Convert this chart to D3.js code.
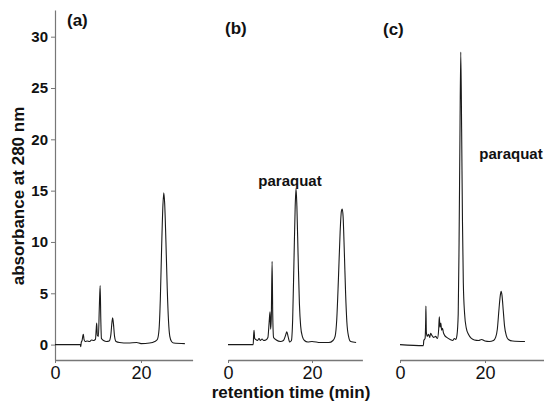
<!DOCTYPE html>
<html>
<head>
<meta charset="utf-8">
<script src="https://cdn.jsdelivr.net/npm/d3@7"></script>
<style>
  body { margin: 0; background: #fff; }
  svg text { font-family: "Liberation Sans", Arial, Helvetica, sans-serif; fill: #111; }
  .axis path, .axis line { stroke: #777; }
</style>
</head>
<body>
<svg id="chart" width="544" height="402"></svg>
<script>
// chromatogram traces: [retention time (min), absorbance]
const traceA = [[0,0],[5.9,0],[6.0,-0.2],[6.1,0.2],[6.3,0.4],[6.5,0.9],[6.6,1.0],[6.75,0.5],[7.0,0.3],[7.5,0.35],[8.0,0.3],[8.5,0.45],[9.0,0.4],[9.4,0.5],[9.6,1.6],[9.7,2.1],[9.85,0.9],[10.1,0.8],[10.3,3.5],[10.5,5.75],[10.65,2.5],[10.8,0.6],[11.3,0.4],[12.0,0.3],[12.6,0.35],[13.0,1.0],[13.25,2.2],[13.4,2.6],[13.6,2.0],[13.85,0.8],[14.2,0.3],[15,0.2],[17,0.15],[19,0.2],[20,0.1],[22,0.15],[23.2,0.3],[23.8,0.5],[24.2,1.5],[24.5,4.5],[24.8,9.5],[25.1,13.6],[25.3,14.8],[25.5,13.8],[25.8,10],[26.1,5.5],[26.4,2.3],[26.7,0.8],[27.1,0.3],[27.6,0.15],[30.2,0.1]];
const traceB = [[0,0],[6.0,0],[6.1,0.9],[6.2,1.4],[6.35,0.6],[6.6,0.5],[7.0,0.4],[7.4,0.6],[7.7,0.4],[8.1,0.55],[8.5,0.4],[9.0,0.45],[9.5,0.7],[9.8,2.2],[10.0,3.2],[10.15,1.5],[10.3,2.5],[10.5,8.1],[10.65,3.0],[10.85,0.7],[11.5,0.45],[12.5,0.3],[13.2,0.4],[13.7,0.9],[14.0,1.25],[14.3,0.8],[14.7,0.25],[15.1,0.4],[15.4,2.5],[15.7,8],[16.0,13.5],[16.2,15.2],[16.4,13.5],[16.7,8.5],[17.0,4],[17.3,1.8],[17.7,0.8],[18.2,0.4],[19,0.25],[20,0.3],[22,0.2],[24,0.2],[25,0.4],[25.5,0.8],[25.9,2.5],[26.3,6.5],[26.7,11],[27.0,13],[27.2,13.2],[27.4,12.5],[27.7,9],[28.0,5],[28.3,2.2],[28.7,0.8],[29.2,0.3],[30.5,0.2]];
const traceC = [[0,0],[5.5,-0.1],[5.6,0.4],[5.9,0.6],[6.05,2.5],[6.1,3.75],[6.2,1.2],[6.4,0.8],[6.7,1.0],[7.0,0.7],[7.2,1.1],[7.5,0.9],[7.9,0.7],[8.4,0.8],[8.8,0.6],[9.1,1.5],[9.25,2.7],[9.4,1.7],[9.6,2.1],[9.8,1.4],[10.0,1.6],[10.2,1.2],[10.5,0.9],[11.0,0.7],[11.8,0.5],[12.4,0.4],[12.8,0.6],[13.1,0.5],[13.4,0.9],[13.7,3],[13.9,10],[14.1,20],[14.3,28.5],[14.5,21],[14.7,12],[14.9,6],[15.2,3],[15.6,1.6],[16.1,1.0],[16.8,0.6],[17.5,0.45],[18.5,0.4],[19.2,0.5],[20,0.35],[21,0.3],[22,0.4],[22.5,0.7],[22.9,1.5],[23.3,3.5],[23.6,4.8],[23.8,5.2],[24.0,4.8],[24.3,3.3],[24.6,1.8],[25,0.9],[25.5,0.5],[26.5,0.35],[29.4,0.3]];

const panelNames = ["(a)", "(b)", "(c)"];
const yTicks = [0, 5, 10, 15, 20, 25, 30];
const xTicks = [0, 20];
const peakLabel = "paraquat";

// layout for the three panels (pixel placement only)
const panels = [
  {trace: traceA, x0: 55,  k: 4.3,  xmax: 32,   labelX: 67,  labelY: 26, tag: null},
  {trace: traceB, x0: 228, k: 4.2,  xmax: 32,   labelX: 225, labelY: 34, tag: {x: 290, y: 186}},
  {trace: traceC, x0: 400, k: 4.25, xmax: 34.2, labelX: 383, labelY: 35, tag: {x: 511, y: 159}}
];

const svg = d3.select("#chart");
const y = d3.scaleLinear().domain([-1.5, 32.6]).range([360, 10]);
const axisY = 360;

// y axis (only on panel a)
const gy = svg.append("g").attr("class", "axis")
  .attr("transform", "translate(55,0)")
  .call(d3.axisLeft(y).tickValues(yTicks).tickSize(4).tickSizeOuter(0).tickPadding(3));
gy.selectAll("text").style("font-size", "15px").style("font-weight", "bold");
gy.select(".domain").attr("stroke-width", 1.2);

svg.append("text")
  .attr("transform", "translate(24,196) rotate(-90)")
  .attr("text-anchor", "middle")
  .style("font-size", "17px").style("font-weight", "bold")
  .text("absorbance at 280 nm");

panels.forEach((p, i) => {
  const x = d3.scaleLinear().domain([0, p.xmax]).range([p.x0, p.x0 + p.xmax * p.k]);

  const gx = svg.append("g").attr("class", "axis")
    .attr("transform", `translate(0,${axisY})`)
    .call(d3.axisBottom(x).tickValues(xTicks).tickSize(3).tickSizeOuter(0).tickPadding(3));
  gx.selectAll("text").style("font-size", "18px");
  gx.select(".domain").attr("stroke-width", 1.6);

  const line = d3.line()
    .x(d => x(d[0]))
    .y(d => y(d[1]))
    .curve(d3.curveMonotoneX);

  svg.append("path")
    .datum(p.trace)
    .attr("d", line)
    .attr("fill", "none")
    .attr("stroke", "#1a1a1a")
    .attr("stroke-width", 1.1);

  svg.append("text")
    .attr("x", p.labelX).attr("y", p.labelY)
    .style("font-size", "17px").style("font-weight", "bold")
    .text(panelNames[i]);

  if (p.tag) {
    svg.append("text")
      .attr("x", p.tag.x).attr("y", p.tag.y)
      .attr("text-anchor", "middle")
      .style("font-size", "15px").style("font-weight", "bold")
      .text(peakLabel);
  }
});

svg.append("text")
  .attr("x", 291).attr("y", 398)
  .attr("text-anchor", "middle")
  .style("font-size", "17px").style("font-weight", "bold")
  .text("retention time (min)");
</script>
</body>
</html>
